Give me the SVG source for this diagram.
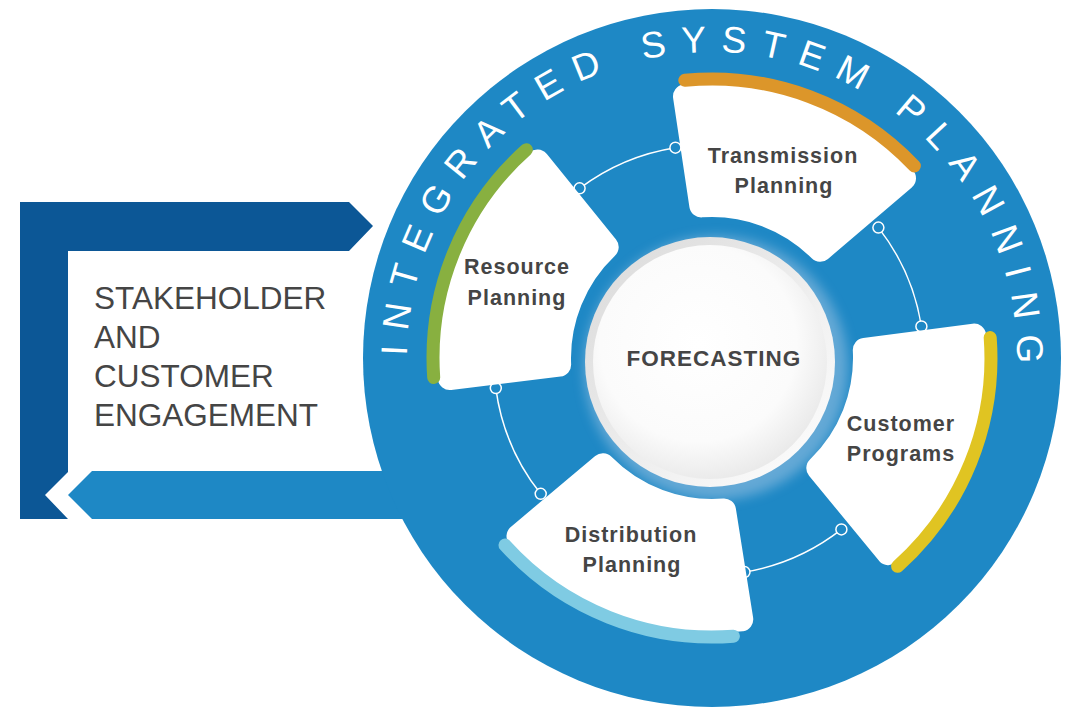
<svg xmlns="http://www.w3.org/2000/svg" width="1074" height="707" viewBox="0 0 1074 707">
<defs>
<style>
.lbl{font-family:"Liberation Sans",Arial,sans-serif;font-weight:bold;font-size:21.5px;fill:#454545;text-anchor:middle;letter-spacing:1px}
.node{fill:#fff;stroke:#fff;stroke-width:24;stroke-linejoin:round}
.arc{fill:none;stroke-width:13;stroke-linecap:round}
.conn{fill:none;stroke:#fff;stroke-width:1.5}
.dot{fill:#1e88c5;stroke:#fff;stroke-width:1.5}
.side{font-family:"Liberation Sans",Arial,sans-serif;font-size:31.5px;fill:#454545}
.ring{font-family:"Liberation Sans",Arial,sans-serif;font-size:37px;fill:#ffffff;letter-spacing:14.5px}
</style>
<path id="ringPath" d="M 407 357 A 305 305 0 0 1 1017 357"/>
<linearGradient id="rimGrad" x1="0" y1="0" x2="1" y2="1">
<stop offset="0" stop-color="#d9d9d9"/>
<stop offset="1" stop-color="#ffffff"/>
</linearGradient>
<radialGradient id="discGrad" cx="0.45" cy="0.42" r="0.6">
<stop offset="0" stop-color="#ffffff"/>
<stop offset="0.7" stop-color="#fbfbfb"/>
<stop offset="1" stop-color="#e9e9e9"/>
</radialGradient>
<filter id="blur" x="-30%" y="-30%" width="160%" height="160%">
<feGaussianBlur stdDeviation="6"/>
</filter>
</defs>
<rect width="1074" height="707" fill="#ffffff"/>

<g id="stakeholder">
<polygon points="20,202 349,202 373,226 349,251 68,251 68,472 45,495 68,519 20,519" fill="#0c5796"/>
<polygon points="92,471 430,471 430,519 92,519 68,495" fill="#1e88c5"/>
<text class="side" x="94" y="309">STAKEHOLDER</text>
<text class="side" x="94" y="348">AND</text>
<text class="side" x="94" y="387">CUSTOMER</text>
<text class="side" x="94" y="426">ENGAGEMENT</text>
</g>

<g id="isp-ring">
<circle cx="712" cy="358" r="349" fill="#1e88c5"/>
<text class="ring"><textPath href="#ringPath" startOffset="1">INTEGRATED</textPath></text>
<text class="ring"><textPath href="#ringPath" startOffset="409.25">SYSTEM</textPath></text>
<text class="ring"><textPath href="#ringPath" startOffset="673.2">PLANNING</textPath></text>
</g>

<g id="connectors">
<path class="conn" d="M 878.4 227.6 A 215 215 0 0 1 921.4 326.4"/>
<path class="conn" d="M 841.4 529.4 A 215 215 0 0 1 744.5 572.1"/>
<path class="conn" d="M 540.7 493.8 A 215 215 0 0 1 495.8 388.1"/>
<path class="conn" d="M 579.6 188.3 A 215 215 0 0 1 675.4 147.65"/>
<circle class="dot" cx="878.4" cy="227.6" r="5.5"/>
<circle class="dot" cx="921.4" cy="326.4" r="5.5"/>
<circle class="dot" cx="841.4" cy="529.4" r="5.5"/>
<circle class="dot" cx="744.5" cy="572.1" r="5.5"/>
<circle class="dot" cx="540.7" cy="493.8" r="5.5"/>
<circle class="dot" cx="495.8" cy="388.1" r="5.5"/>
<circle class="dot" cx="579.6" cy="188.3" r="5.5"/>
<circle class="dot" cx="675.4" cy="147.65" r="5.5"/>
</g>

<g id="forecasting">
<circle cx="716" cy="368" r="132" fill="#a9c9e6" opacity="0.5" filter="url(#blur)"/>
<circle cx="710" cy="362" r="125" fill="url(#rimGrad)"/>
<circle cx="710" cy="362" r="117" fill="url(#discGrad)"/>
<text class="lbl" x="714" y="366" style="font-size:22.5px;letter-spacing:1px">FORECASTING</text>
</g>

<g id="transmission-planning">
<path class="node" d="M 685.0 96.4 A 263 263 0 0 1 904.0 178.25 L 820.2 249.8 A 153 153 0 0 0 701.3 205.4 Z"/>
<path class="arc" stroke="#dc962a" d="M 684.8 80.3 A 279 279 0 0 1 914.4 165.95"/>
<text class="lbl" x="783" y="163">Transmission</text>
<text class="lbl" x="784" y="193">Planning</text>
</g>

<g id="customer-programs">
<path class="node" d="M 974.05 335.6 A 263 263 0 0 1 888.3 553.2 L 818.3 468.1 A 153 153 0 0 0 864.8 350.0 Z"/>
<path class="arc" stroke="#e0c422" d="M 990.2 337.6 A 279 279 0 0 1 897.6 566.3"/>
<text class="lbl" x="901" y="431">Customer</text>
<text class="lbl" x="901" y="461">Programs</text>
</g>

<g id="distribution-planning">
<path class="node" d="M 741.25 619.4 A 263 263 0 0 1 518.5 536.1 L 602.9 465.2 A 153 153 0 0 0 724.0 510.5 Z"/>
<path class="arc" stroke="#7fcbe3" d="M 733.4 636.2 A 279 279 0 0 1 505.0 545.1"/>
<text class="lbl" x="631" y="542">Distribution</text>
<text class="lbl" x="632" y="572">Planning</text>
</g>

<g id="resource-planning">
<path class="node" d="M 449.8 378.1 A 263 263 0 0 1 537.35 161.4 L 606.7 247.0 A 153 153 0 0 0 559.15 364.7 Z"/>
<path class="arc" stroke="#88b040" d="M 433.7 377.5 A 279 279 0 0 1 526.4 149.7"/>
<text class="lbl" x="517" y="274">Resource</text>
<text class="lbl" x="517" y="305">Planning</text>
</g>
</svg>
